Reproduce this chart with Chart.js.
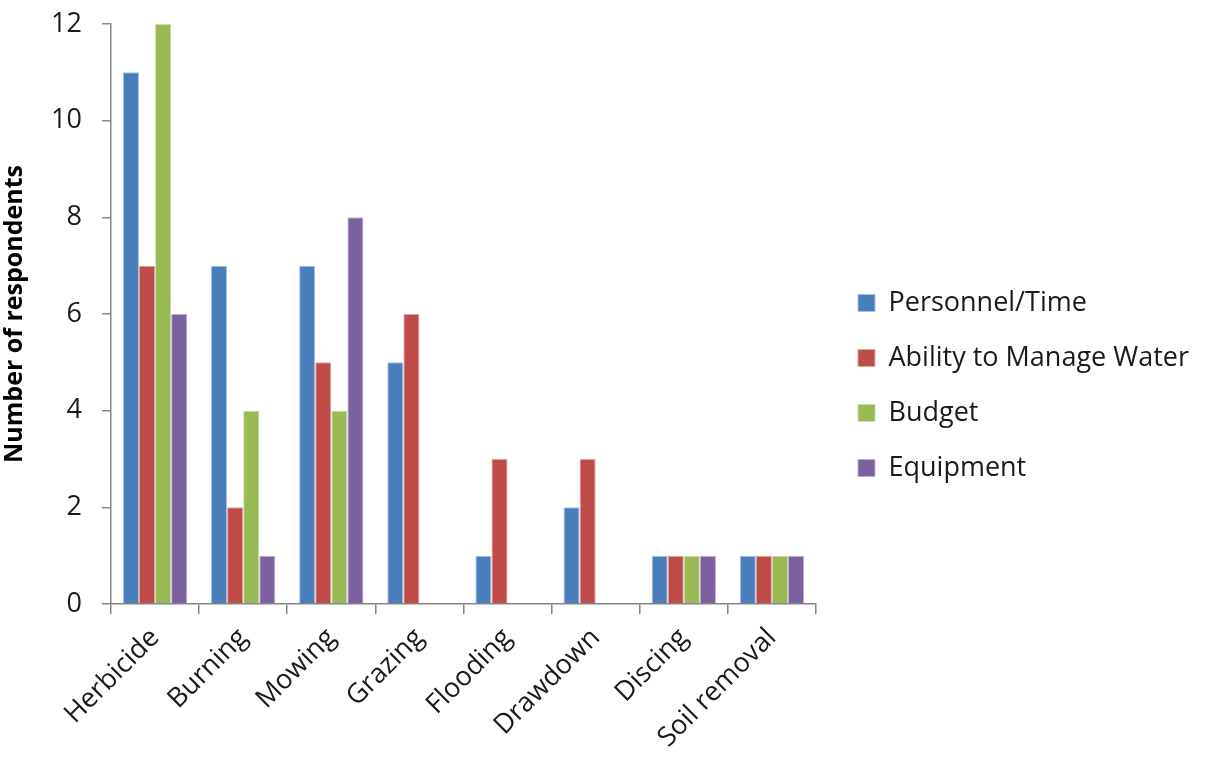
<!DOCTYPE html>
<html><head><meta charset="utf-8">
<script src="https://cdn.jsdelivr.net/npm/chart.js@4/dist/chart.umd.min.js"></script>
<style>html,body{margin:0;padding:0;background:#fff}#wrap{width:1215px;height:759px}</style>
</head><body><div id="wrap"><canvas id="c" width="1215" height="759"></canvas></div>
<script>
const categories = ["Herbicide","Burning","Mowing","Grazing","Flooding","Drawdown","Discing","Soil removal"];
const personnelTime = [11,7,7,5,1,2,1,1];
const abilityWater = [7,2,5,6,3,3,1,1];
const budget = [12,4,4,0,0,0,1,1];
const equipment = [6,1,8,0,0,0,1,1];
const seriesNames = ["Personnel/Time","Ability to Manage Water","Budget","Equipment"];
const yTicks = [0,2,4,6,8,10,12];

const colors = ["#4A7EBB","#BE4B48","#98B954","#7D60A0"];
const borders = ["#A7C0DE","#DFA6A4","#CCDCAA","#BEB0D0"];
const seriesData = [personnelTime, abilityWater, budget, equipment];
const FONT = "'Open Sans', 'Liberation Sans', sans-serif";
const axisColor = "#868686";
const LEGEND_GAP = 16;

const legendGap = {
  id: 'legendGap',
  afterInit(chart) {
    const lg = chart.legend;
    const orig = lg.fit;
    lg.fit = function() { orig.call(this); this.width += LEGEND_GAP; };
  },
  afterLayout(chart) {
    chart.legend.left += LEGEND_GAP - 2;
    chart.legend.top += 12;
  }
};

function draw() {
new Chart(document.getElementById('c'), {
  type: 'bar',
  data: {
    labels: categories,
    datasets: seriesNames.map((n,i)=>({
      label: n, data: seriesData[i], backgroundColor: colors[i],
      borderColor: borders[i], borderWidth: 1,
      categoryPercentage: 0.73, barPercentage: 1.0
    }))
  },
  plugins: [legendGap],
  options: {
    responsive: false, animation: false,
    layout: { padding: { left: 0, top: 0, right: 14, bottom: 0 } },
    plugins: {
      legend: {
        position: 'right',
        maxWidth: 600,
        labels: { font: { family: FONT, size: 27 }, color: '#1a1a1a', boxWidth: 17, boxHeight: 17, padding: 28 }
      },
      tooltip: { enabled: false }
    },
    scales: {
      x: {
        grid: { drawOnChartArea: false, color: axisColor, lineWidth: 1.5, tickLength: 10, offset: true },
        border: { color: axisColor, width: 1.5 },
        ticks: { font: { family: FONT, size: 27 }, color: '#1a1a1a', maxRotation: 45, minRotation: 45, padding: 8 },
        afterFit: s => { s.height = 155; }
      },
      y: {
        min: 0, max: 12,
        afterBuildTicks: s => { s.ticks = yTicks.map(v=>({value:v})); },
        grid: { drawOnChartArea: false, color: axisColor, lineWidth: 1.5, tickLength: 9 },
        border: { color: axisColor, width: 1.5 },
        ticks: { font: { family: FONT, size: 27 }, color: '#1a1a1a', padding: 20 },
        title: { display: true, text: 'Number of respondents', font: { family: FONT, size: 25, weight: 'bold' }, color: '#000', padding: 0 },
        afterFit: s => { s.width = 111; s.paddingTop = 24; s.paddingBottom = 0; }
      }
    }
  }
});
}
Promise.all([
  document.fonts.load("27px 'Open Sans'"),
  document.fonts.load("bold 25px 'Open Sans'")
]).then(draw, draw);
</script></body></html>
